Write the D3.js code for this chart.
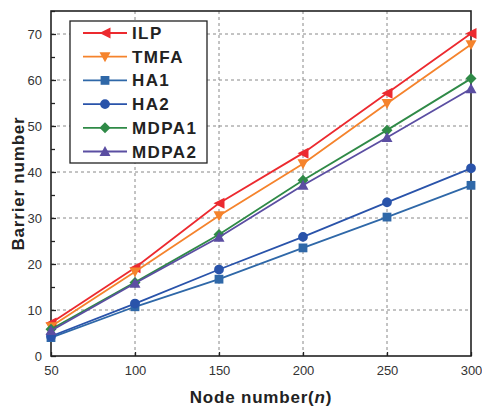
<!DOCTYPE html>
<html>
<head>
<meta charset="utf-8">
<script src="https://cdn.jsdelivr.net/npm/d3@7"></script>
<style>
  body { margin: 0; background: #fff; }
  text { font-family: "Liberation Sans", Arial, sans-serif; }
</style>
</head>
<body>
<div id="chart"></div>
<script>
const nodes = [50, 100, 150, 200, 250, 300];
const ilp   = [7.2, 19.2, 33.2, 44.1, 57.1, 70.1];
const tmfa  = [6.4, 18.3, 30.5, 41.8, 54.9, 67.7];
const ha1   = [4.0, 10.7, 16.7, 23.5, 30.2, 37.1];
const ha2   = [4.3, 11.4, 18.8, 25.9, 33.4, 40.8];
const mdpa1 = [5.8, 16.0, 26.4, 38.2, 49.1, 60.3];
const mdpa2 = [5.5, 15.8, 25.8, 37.1, 47.5, 58.1];
const xTicks = [50, 100, 150, 200, 250, 300];
const yTicks = [0, 10, 20, 30, 40, 50, 60, 70];

const series = [
    { name: "ILP",   values: ilp,   color: "#ec2a2f", symbol: "triLeft" },
    { name: "TMFA",  values: tmfa,  color: "#f5832c", symbol: "triDown" },
    { name: "HA1",   values: ha1,   color: "#2f68a8", symbol: "square" },
    { name: "HA2",   values: ha2,   color: "#2953aa", symbol: "circle" },
    { name: "MDPA1", values: mdpa1, color: "#2f8a47", symbol: "diamond" },
    { name: "MDPA2", values: mdpa2, color: "#5b4ea2", symbol: "triUp" }
];

const width = 482, height = 408;
const margin = { top: 11, right: 11, bottom: 52, left: 51 };

const svg = d3.select("#chart").append("svg")
    .attr("width", width)
    .attr("height", height);

const x = d3.scaleLinear().domain([50, 300]).range([margin.left, width - margin.right]);
const y = d3.scaleLinear().domain([0, 75]).range([height - margin.bottom, margin.top]);

// grid
svg.append("g").selectAll("line")
    .data(xTicks.slice(1, -1))
    .enter().append("line")
    .attr("x1", d => x(d)).attr("x2", d => x(d))
    .attr("y1", y(0)).attr("y2", y(75))
    .attr("stroke", "#888").attr("stroke-dasharray", "3,3").attr("stroke-width", 1);
svg.append("g").selectAll("line")
    .data(yTicks.slice(1))
    .enter().append("line")
    .attr("x1", x(50)).attr("x2", x(300))
    .attr("y1", d => y(d)).attr("y2", d => y(d))
    .attr("stroke", "#888").attr("stroke-dasharray", "3,3").attr("stroke-width", 1);

// axes
const yAxis = svg.append("g")
    .attr("transform", `translate(${x(50)},0)`)
    .call(d3.axisLeft(y).tickValues(yTicks).tickSize(-5).tickPadding(9));
const yMinor = svg.append("g")
    .attr("transform", `translate(${x(50)},0)`)
    .call(d3.axisLeft(y).tickValues(yTicks.map(d => d + 5)).tickSize(-4).tickFormat(""));
yMinor.select(".domain").remove();

const xAxis = svg.append("g")
    .attr("transform", `translate(0,${y(0)})`)
    .call(d3.axisBottom(x).tickValues(xTicks).tickSize(-4).tickPadding(10));

[yAxis, yMinor, xAxis].forEach(g => {
    g.selectAll("line").attr("stroke", "#222").attr("stroke-width", 1.3);
    g.selectAll(".domain").attr("stroke", "none");
    g.selectAll("text").attr("font-size", 13).attr("fill", "#333")
        .attr("font-family", "'Liberation Sans', Arial, sans-serif");
});

// frame
svg.append("rect")
    .attr("x", x(50)).attr("y", y(75))
    .attr("width", x(300) - x(50)).attr("height", y(0) - y(75))
    .attr("fill", "none").attr("stroke", "#222").attr("stroke-width", 1.6);

function symbolPath(type, s) {
    const h = s / 2;
    if (type === "triLeft") return `M${-h},0L${h},${-h}L${h},${h}Z`;
    if (type === "triDown") return `M${-h},${-h * 0.8}L${h},${-h * 0.8}L0,${h}Z`;
    if (type === "triUp") return `M${-h},${h * 0.8}L${h},${h * 0.8}L0,${-h}Z`;
    if (type === "square") { const q = h * 0.8; return `M${-q},${-q}L${q},${-q}L${q},${q}L${-q},${q}Z`; }
    if (type === "diamond") return `M0,${-h}L${h},0L0,${h}L${-h},0Z`;
    return d3.symbol(d3.symbolCircle, s * s * 0.62)();
}

const line = d3.line().x((d, i) => x(nodes[i])).y(d => y(d));

const groups = svg.selectAll(".series")
    .data(series)
    .enter().append("g")
    .attr("class", "series");

groups.append("path")
    .attr("d", d => line(d.values))
    .attr("fill", "none")
    .attr("stroke", d => d.color)
    .attr("stroke-width", 1.8);

groups.each(function(s) {
    d3.select(this).selectAll(".pt")
        .data(s.values)
        .enter().append("path")
        .attr("class", "pt")
        .attr("transform", (d, i) => `translate(${x(nodes[i])},${y(d)})`)
        .attr("d", symbolPath(s.symbol, 11))
        .attr("fill", s.color);
});

// legend
const legend = svg.append("g").attr("transform", "translate(70,21)");
legend.append("rect")
    .attr("width", 137).attr("height", 142)
    .attr("fill", "#fff").attr("stroke", "#222").attr("stroke-width", 1.3);

const rows = legend.selectAll(".row")
    .data(series)
    .enter().append("g")
    .attr("transform", (d, i) => `translate(0,${12 + i * 23.7})`);
rows.append("line")
    .attr("x1", 13).attr("x2", 57).attr("y1", 0).attr("y2", 0)
    .attr("stroke", d => d.color).attr("stroke-width", 1.8);
rows.append("path")
    .attr("transform", "translate(35,0)")
    .attr("d", d => symbolPath(d.symbol, 11))
    .attr("fill", d => d.color);
rows.append("text")
    .attr("x", 62).attr("y", 6)
    .attr("font-size", 17).attr("font-weight", "bold")
    .attr("letter-spacing", 1.4)
    .attr("fill", "#222")
    .text(d => d.name);

// axis titles
svg.append("text")
    .attr("transform", `translate(24,${(y(0) + y(75)) / 2}) rotate(-90)`)
    .attr("text-anchor", "middle")
    .attr("font-size", 17).attr("font-weight", "bold").attr("letter-spacing", 0.8)
    .attr("fill", "#222")
    .text("Barrier number");

const xt = svg.append("text")
    .attr("x", (x(50) + x(300)) / 2).attr("y", 403)
    .attr("text-anchor", "middle")
    .attr("font-size", 17).attr("font-weight", "bold").attr("letter-spacing", 0.8)
    .attr("fill", "#222");
xt.append("tspan").text("Node number(");
xt.append("tspan").attr("font-style", "italic").text("n");
xt.append("tspan").text(")");
</script>
</body>
</html>
